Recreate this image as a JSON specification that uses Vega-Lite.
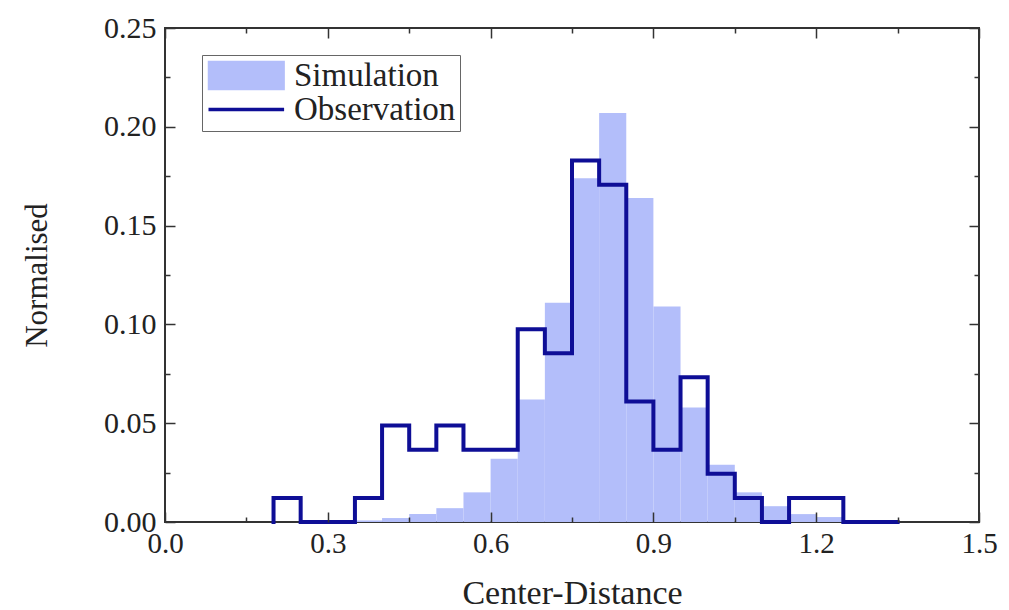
{
  "$schema": "https://vega.github.io/schema/vega-lite/v6.json",
  "width": 814,
  "height": 494,
  "autosize": "none",
  "padding": {"left": 165, "top": 28, "right": 30, "bottom": 88},
  "background": "white",
  "data": {
    "values": [
      {"start": 0.15, "end": 0.20, "simulation": 0.0, "observation": 0.0},
      {"start": 0.20, "end": 0.25, "simulation": 0.0, "observation": 0.0122},
      {"start": 0.25, "end": 0.30, "simulation": 0.0, "observation": 0.0},
      {"start": 0.30, "end": 0.35, "simulation": 0.0, "observation": 0.0},
      {"start": 0.35, "end": 0.40, "simulation": 0.0008, "observation": 0.0122},
      {"start": 0.40, "end": 0.45, "simulation": 0.002, "observation": 0.0488},
      {"start": 0.45, "end": 0.50, "simulation": 0.004, "observation": 0.0366},
      {"start": 0.50, "end": 0.55, "simulation": 0.007, "observation": 0.0488},
      {"start": 0.55, "end": 0.60, "simulation": 0.015, "observation": 0.0366},
      {"start": 0.60, "end": 0.65, "simulation": 0.032, "observation": 0.0366},
      {"start": 0.65, "end": 0.70, "simulation": 0.062, "observation": 0.0976},
      {"start": 0.70, "end": 0.75, "simulation": 0.111, "observation": 0.0854},
      {"start": 0.75, "end": 0.80, "simulation": 0.174, "observation": 0.1829},
      {"start": 0.80, "end": 0.85, "simulation": 0.207, "observation": 0.1707},
      {"start": 0.85, "end": 0.90, "simulation": 0.164, "observation": 0.0610},
      {"start": 0.90, "end": 0.95, "simulation": 0.109, "observation": 0.0366},
      {"start": 0.95, "end": 1.00, "simulation": 0.058, "observation": 0.0732},
      {"start": 1.00, "end": 1.05, "simulation": 0.029, "observation": 0.0244},
      {"start": 1.05, "end": 1.10, "simulation": 0.015, "observation": 0.0122},
      {"start": 1.10, "end": 1.15, "simulation": 0.008, "observation": 0.0},
      {"start": 1.15, "end": 1.20, "simulation": 0.004, "observation": 0.0122},
      {"start": 1.20, "end": 1.25, "simulation": 0.0025, "observation": 0.0122},
      {"start": 1.25, "end": 1.30, "simulation": 0.001, "observation": 0.0},
      {"start": 1.30, "end": 1.35, "simulation": 0.0005, "observation": 0.0}
    ]
  },
  "layer": [
    {
      "mark": {"type": "bar", "clip": true},
      "encoding": {
        "x": {
          "field": "start",
          "type": "quantitative",
          "scale": {"domain": [0, 1.5], "nice": false, "zero": false},
          "axis": {
            "orient": "bottom",
            "title": "Center-Distance",
            "values": [0, 0.15, 0.3, 0.45, 0.6, 0.75, 0.9, 1.05, 1.2, 1.35, 1.5],
            "labelExpr": "abs(datum.value * 10 / 3 - round(datum.value * 10 / 3)) < 0.01 ? format(datum.value, '.1f') : ''",
            "tickSize": {"expr": "abs(datum.value * 10 / 3 - round(datum.value * 10 / 3)) < 0.01 ? -10 : -5"},
            "labelPadding": 17,
            "titlePadding": 13,
            "zindex": 1
          }
        },
        "x2": {"field": "end"},
        "y": {
          "field": "simulation",
          "type": "quantitative",
          "scale": {"domain": [0, 0.25], "nice": false},
          "axis": {
            "orient": "left",
            "title": "Normalised",
            "values": [0, 0.025, 0.05, 0.075, 0.1, 0.125, 0.15, 0.175, 0.2, 0.225, 0.25],
            "labelExpr": "abs(datum.value * 20 - round(datum.value * 20)) < 0.01 ? format(datum.value, '.2f') : ''",
            "tickSize": {"expr": "abs(datum.value * 20 - round(datum.value * 20)) < 0.01 ? -10 : -5"},
            "labelPadding": 19,
            "titlePadding": 50,
            "titleFontSize": 31,
            "labelFontSize": 30,
            "zindex": 1
          }
        },
        "y2": {"datum": 0},
        "color": {
          "datum": "Simulation",
          "type": "nominal",
          "scale": {"domain": ["Simulation", "Observation"], "range": ["#b3befa", "#0e0e96"]},
          "legend": {
            "orient": "none",
            "legendX": 37,
            "legendY": 27,
            "title": null,
            "symbolSize": 784,
            "labelOffset": 55,
            "labelLimit": 400,
            "padding": 4,
            "rowPadding": -6,
            "fillColor": "white",
            "strokeColor": "#666",
            "labelFont": "Liberation Serif",
            "labelFontSize": 33,
            "labelColor": "#222",
            "encode": {
              "symbols": {
                "update": {
                  "shape": {"signal": "datum.value === 'Simulation' ? 'M-1,-1H4.4V1H-1Z' : 'M-1,0H4.4'"},
                  "fill": {"signal": "datum.value === 'Simulation' ? '#b3befa' : 'transparent'"},
                  "stroke": {"signal": "datum.value === 'Simulation' ? '#7d84a6' : '#0e0e96'"},
                  "strokeWidth": {"signal": "datum.value === 'Simulation' ? 1.5 : 3.5"},
                  "opacity": {"value": 1}
                }
              }
            }
          }
        }
      }
    },
    {
      "mark": {"type": "line", "interpolate": "step-before", "strokeWidth": 4, "strokeJoin": "miter", "strokeCap": "square"},
      "encoding": {
        "x": {
          "field": "end",
          "type": "quantitative",
          "axis": {
            "orient": "top",
            "title": null,
            "labels": false,
            "values": [0, 0.15, 0.3, 0.45, 0.6, 0.75, 0.9, 1.05, 1.2, 1.35, 1.5],
            "tickSize": {"expr": "abs(datum.value * 10 / 3 - round(datum.value * 10 / 3)) < 0.01 ? -10 : -5"},
            "zindex": 1
          }
        },
        "y": {
          "field": "observation",
          "type": "quantitative",
          "axis": {
            "orient": "right",
            "title": null,
            "labels": false,
            "values": [0, 0.025, 0.05, 0.075, 0.1, 0.125, 0.15, 0.175, 0.2, 0.225, 0.25],
            "tickSize": {"expr": "abs(datum.value * 20 - round(datum.value * 20)) < 0.01 ? -10 : -5"},
            "zindex": 1
          }
        },
        "color": {"datum": "Observation", "type": "nominal"}
      }
    }
  ],
  "config": {
    "view": {"stroke": "#333", "strokeWidth": 2},
    "axis": {
      "grid": false,
      "domain": false,
      "labelFont": "Liberation Serif",
      "titleFont": "Liberation Serif",
      "labelFontSize": 29,
      "titleFontSize": 34,
      "titleFontWeight": "normal",
      "labelColor": "#222",
      "titleColor": "#222",
      "tickColor": "#333",
      "tickWidth": 1.5,
      "labelFlush": false,
      "labelOverlap": false
    }
  }
}
